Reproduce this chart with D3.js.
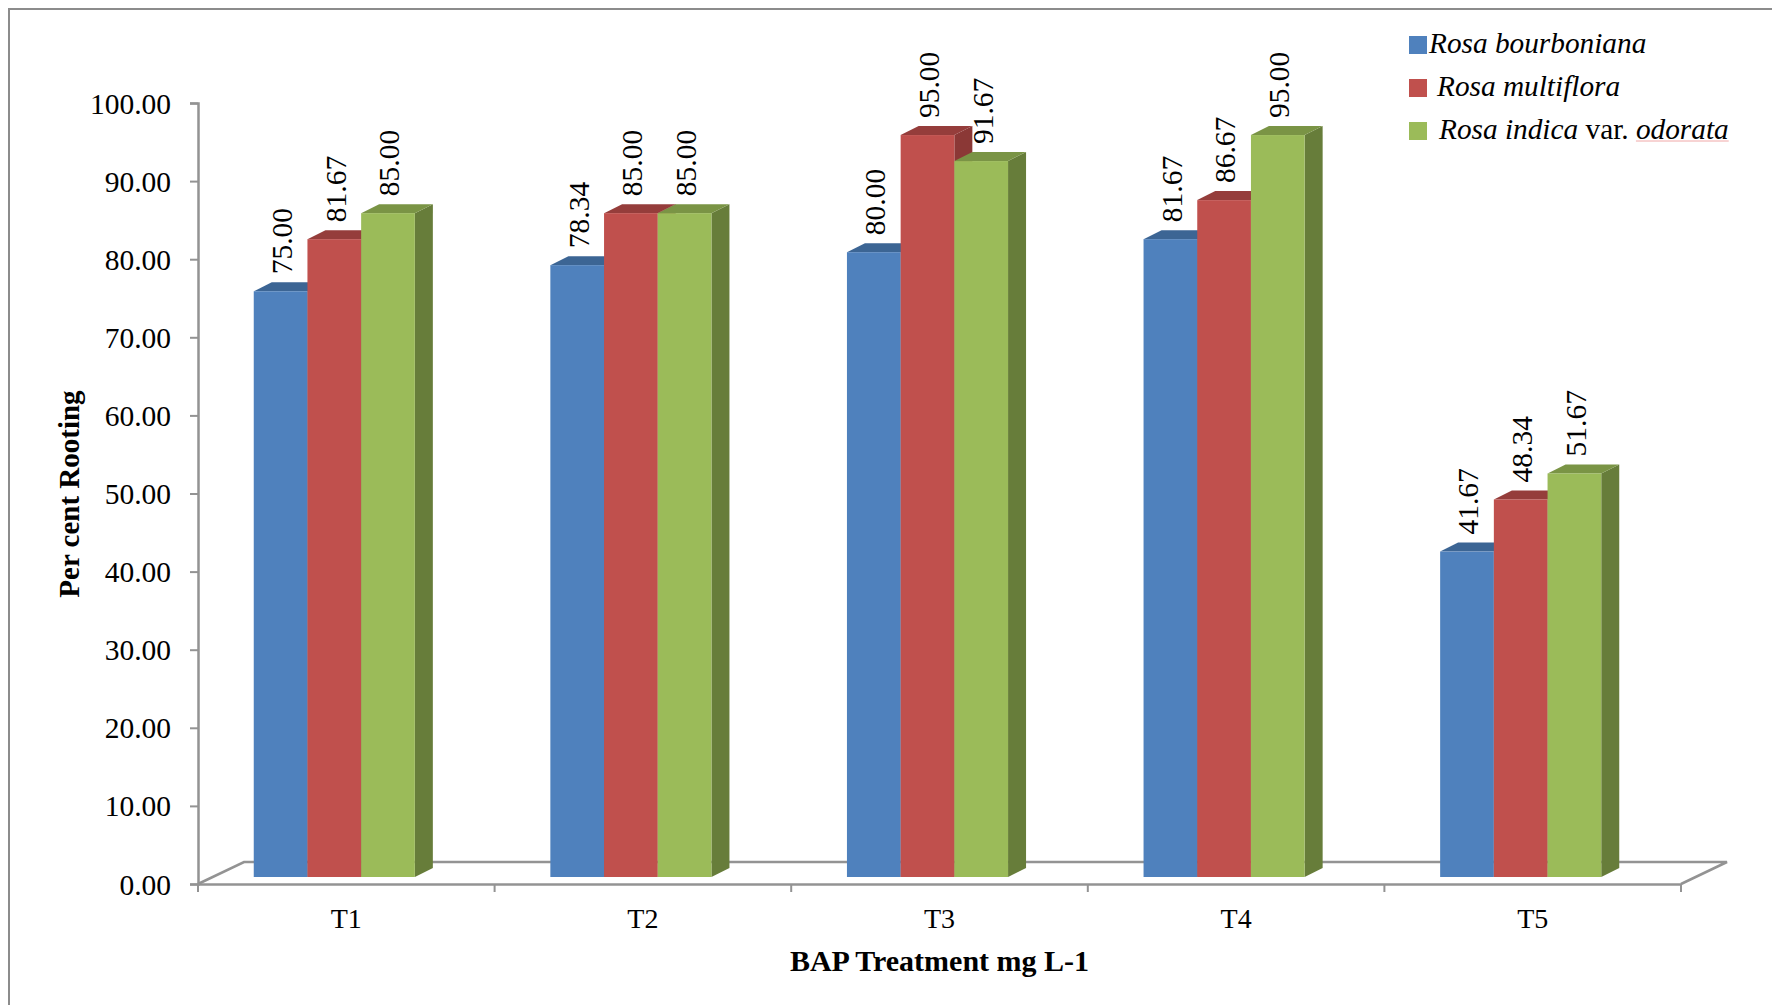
<!DOCTYPE html>
<html>
<head>
<meta charset="utf-8">
<script src="https://cdn.jsdelivr.net/npm/d3@7"></script>
<style>
  html, body { margin: 0; padding: 0; background: #fff; }
  svg { display: block; }
  text { font-family: "Liberation Serif", "Times New Roman", serif; fill: #000; }
</style>
</head>
<body>
<svg id="chart" width="1772" height="1005"></svg>
<script>
// Treatments on the x axis
const categories = ["T1", "T2", "T3", "T4", "T5"];

// Per cent rooting for each rose species
const seriesNames = ["Rosa bourboniana", "Rosa multiflora", "Rosa indica var. odorata"];
const bourboniana = [75.00, 78.34, 80.00, 81.67, 41.67];
const multiflora  = [81.67, 85.00, 95.00, 86.67, 48.34];
const indica      = [85.00, 85.00, 91.67, 95.00, 51.67];

// Value-axis tick values
const yTicks = [0, 10, 20, 30, 40, 50, 60, 70, 80, 90, 100];

const seriesValues = [bourboniana, multiflora, indica];
const palette = [
  { front: "#4F81BD", top: "#3C6594", side: "#375D8A" },
  { front: "#C0504D", top: "#953D3B", side: "#8B3836" },
  { front: "#9BBB59", top: "#7A9445", side: "#677D3A" }
];

const svg = d3.select("#chart");

// Plot geometry
const axisX = 198, axisRight = 1681;
const floorFront = 884;
const floorDepth = { dx: 46, dy: -22 };
const barBase = 877;
const barDepth = { dx: 18, dy: -9 };
const clusterShift = -12;
const barW = 53.7;

const y = d3.scaleLinear().domain([0, 100]).range([floorFront, floorFront - 781]);
const yBar = d3.scaleLinear().domain([0, 100]).range([barBase, barBase - 781]);
const x0 = d3.scaleBand().domain(categories).range([axisX, axisRight]).paddingInner(0).paddingOuter(0);
const x1 = d3.scaleBand().domain(d3.range(seriesNames.length)).range([0, barW * 3]);

// Chart frame (left and top edges)
svg.append("path")
  .attr("d", "M9,1005 L9,9 L1772,9")
  .attr("fill", "none").attr("stroke", "#8c8c8c").attr("stroke-width", 2);

// Floor of the 3-D plot
const floorColor = "#939393";
svg.append("path")
  .attr("d", `M${axisX},${floorFront} L${axisX + floorDepth.dx},${floorFront + floorDepth.dy}
              L${axisRight + floorDepth.dx},${floorFront + floorDepth.dy} L${axisRight},${floorFront}`)
  .attr("fill", "none").attr("stroke", floorColor).attr("stroke-width", 2.5);

// Value axis
const yAxis = d3.axisLeft(y).tickValues(yTicks).tickSize(8).tickFormat(d3.format(".2f"));
const gy = svg.append("g").attr("transform", `translate(${axisX},0)`).call(yAxis);
gy.select(".domain").attr("stroke", floorColor).attr("stroke-width", 2.5);
gy.selectAll(".tick line").attr("stroke", floorColor).attr("stroke-width", 2);
gy.selectAll(".tick text")
  .attr("x", -27).attr("dy", "0.34em")
  .style("font-family", "'Liberation Serif', serif").style("font-size", "29.5px").attr("fill", "#000");

// Category axis
const xAxis = d3.axisBottom(x0).tickSize(0).tickFormat(d => d);
const gx = svg.append("g").attr("transform", `translate(0,${floorFront})`).call(xAxis);
gx.select(".domain").attr("stroke", floorColor).attr("stroke-width", 2.5);
gx.selectAll(".tick text")
  .attr("y", 44).attr("dy", 0)
  .style("font-family", "'Liberation Serif', serif").style("font-size", "28px").attr("fill", "#000");
// Tick marks between categories
const boundaries = categories.map(c => x0(c)).concat([axisRight]);
gx.selectAll(".sep").data(boundaries).join("line")
  .attr("class", "sep")
  .attr("x1", d => d).attr("x2", d => d)
  .attr("y1", 0).attr("y2", 8)
  .attr("stroke", floorColor).attr("stroke-width", 2);

// 3-D columns
const bars = [];
categories.forEach((cat, ci) => {
  const left = x0(cat) + x0.bandwidth() / 2 + clusterShift - barW * 1.5;
  seriesValues.forEach((vals, si) => {
    bars.push({ cat, si, v: vals[ci], x: left + x1(si), w: x1.bandwidth() });
  });
});

const gBars = svg.append("g");
bars.forEach(b => {
  const g = gBars.append("g");
  const top = yBar(b.v), bot = yBar(0);
  const c = palette[b.si];
  const dx = barDepth.dx, dy = barDepth.dy;
  // side face
  g.append("path")
    .attr("d", `M${b.x + b.w},${bot} L${b.x + b.w + dx},${bot + dy} L${b.x + b.w + dx},${top + dy} L${b.x + b.w},${top} Z`)
    .attr("fill", c.side);
  // top face
  g.append("path")
    .attr("d", `M${b.x},${top} L${b.x + dx},${top + dy} L${b.x + b.w + dx},${top + dy} L${b.x + b.w},${top} Z`)
    .attr("fill", c.top);
  // front face
  g.append("rect")
    .attr("x", b.x).attr("y", top).attr("width", b.w).attr("height", bot - top)
    .attr("fill", c.front);
});

// Value labels, rotated above each column
svg.append("g").selectAll("text").data(bars).join("text")
  .attr("transform", d => `translate(${d.x + d.w / 2 + 1},${yBar(d.v) - 17}) rotate(-90)`)
  .attr("text-anchor", "start").attr("dy", "0.35em")
  .style("font-size", "29.5px")
  .text(d => d.v.toFixed(2));

// Axis titles
svg.append("text")
  .attr("transform", "translate(79,494) rotate(-90)")
  .attr("text-anchor", "middle")
  .style("font-size", "29px").style("font-weight", "bold")
  .text("Per cent Rooting");

svg.append("text")
  .attr("x", (axisX + axisRight) / 2).attr("y", 971)
  .attr("text-anchor", "middle")
  .style("font-size", "30px").style("font-weight", "bold")
  .text("BAP Treatment mg L-1");

// Legend
const legend = svg.append("g");
const legendRows = [
  { y: 36, tx: 1429, parts: [{ t: "Rosa bourboniana", i: true }] },
  { y: 79, tx: 1437, parts: [{ t: "Rosa multiflora", i: true }] },
  { y: 122, tx: 1439, parts: [{ t: "Rosa indica", i: true }, { t: " var. ", i: false }, { t: "odorata", i: true }] }
];
legendRows.forEach((row, i) => {
  legend.append("rect")
    .attr("x", 1409).attr("y", row.y).attr("width", 18).attr("height", 18)
    .attr("fill", palette[i].front);
  const t = legend.append("text")
    .attr("x", row.tx).attr("y", row.y + 17)
    .style("font-size", "29.3px")
    .attr("xml:space", "preserve");
  row.parts.forEach(p => {
    t.append("tspan").style("font-style", p.i ? "italic" : "normal").text(p.t);
  });
});
// Thin red underline beneath "odorata"
const lastText = legend.selectAll("text").nodes()[2];
const lastSpan = d3.select(lastText).selectAll("tspan").nodes()[2];
const bb = lastSpan.getBBox();
legend.append("line")
  .attr("x1", bb.x).attr("x2", bb.x + bb.width)
  .attr("y1", 141).attr("y2", 141)
  .attr("stroke", "#f0a8a8").attr("stroke-width", 1);
</script>
</body>
</html>
